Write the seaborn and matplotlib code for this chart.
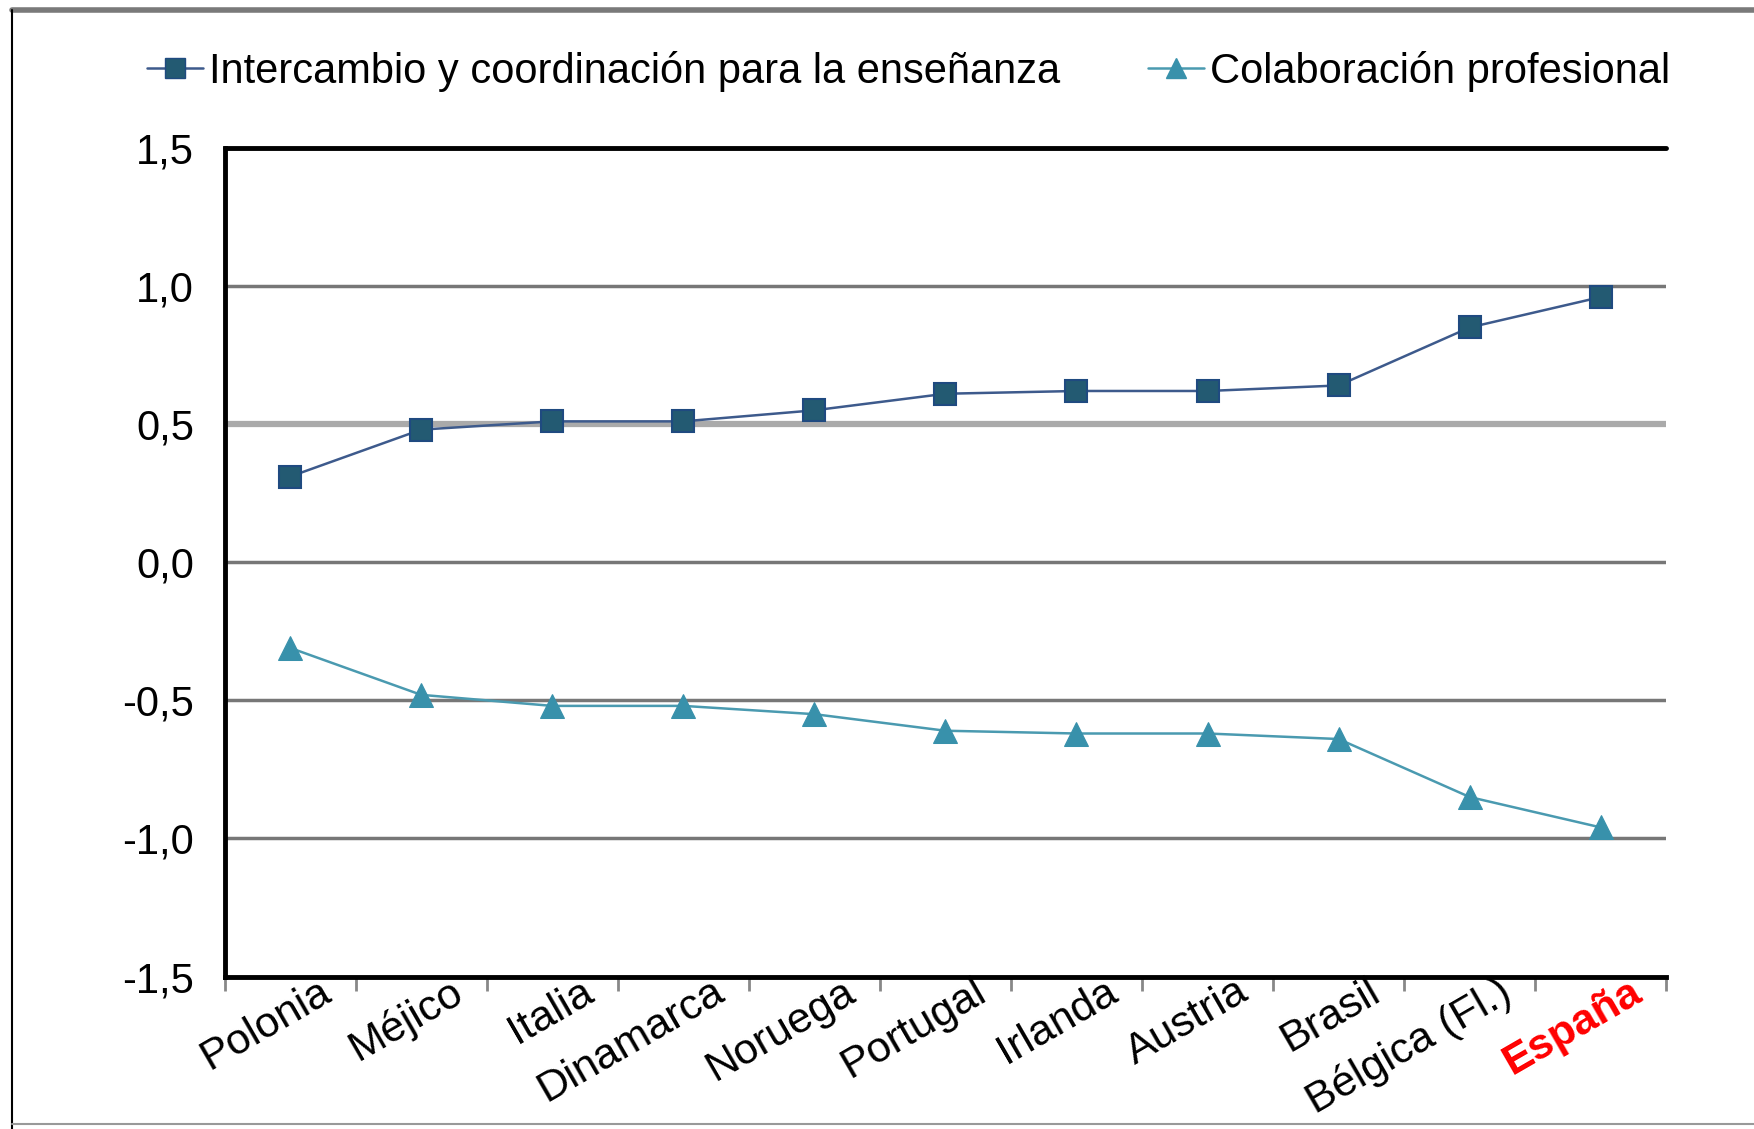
import numpy as np
import pandas as pd
import matplotlib
matplotlib.use("Agg")
import matplotlib.pyplot as plt
import matplotlib.transforms as mtransforms
from matplotlib.lines import Line2D
from matplotlib.ticker import FixedLocator, FuncFormatter
import seaborn as sns

# data
paises = ["Polonia", "Méjico", "Italia", "Dinamarca", "Noruega", "Portugal",
          "Irlanda", "Austria", "Brasil", "Bélgica (Fl.)", "España"]
intercambio = [0.31, 0.48, 0.51, 0.51, 0.55, 0.61, 0.62, 0.62, 0.64, 0.85, 0.96]
colaboracion = [-0.31, -0.48, -0.52, -0.52, -0.55, -0.61, -0.62, -0.62, -0.64, -0.85, -0.96]
serie1 = "Intercambio y coordinación para la enseñanza"
serie2 = "Colaboración profesional"
y_ticks = [-1.5, -1.0, -0.5, 0.0, 0.5, 1.0, 1.5]

df = pd.DataFrame({"pais": paises, "x": range(len(paises)),
                   serie1: intercambio, serie2: colaboracion})

sns.set_theme(style="white")
plt.rcParams["font.family"] = ["Liberation Sans", "DejaVu Sans"]
plt.rcParams["text.color"] = "black"
plt.rcParams["xtick.labelcolor"] = "black"
plt.rcParams["ytick.labelcolor"] = "black"

fig = plt.figure(figsize=(17.54, 11.29), dpi=100)
ax = fig.add_axes([0.128, 0.135, 0.822, 0.734])

# grid lines
for yv in [1.0, 0.0, -0.5, -1.0]:
    ax.axhline(yv, color="#777777", lw=2.5, zorder=1)
ax.axhline(0.5, color="#aaaaaa", lw=4.5, zorder=1)
ax.axhline(1.5, color="black", lw=3.5, zorder=3, clip_on=False)

sns.lineplot(data=df, x="x", y=serie1, ax=ax, color="#3d5a8c", lw=1.8,
             marker="s", markersize=16, markerfacecolor="#235a72",
             markeredgecolor="#1f4a80", markeredgewidth=1.5, zorder=4)
sns.lineplot(data=df, x="x", y=serie2, ax=ax, color="#4a9ab0", lw=1.8,
             marker="^", markersize=17, markerfacecolor="#3891ab",
             markeredgecolor="#3891ab", zorder=4)

ax.set_xlim(-0.5, len(paises) - 0.5)
ax.set_ylim(-1.5, 1.5)
ax.set_yticks(y_ticks)
ax.yaxis.set_major_formatter(FuncFormatter(lambda v, p: f"{v:.1f}".replace(".", ",")))
ax.tick_params(axis="y", labelsize=30, length=0, pad=22)

ax.set_xticks(range(len(paises)))
ax.set_xticklabels(paises, rotation=30, ha="right", rotation_mode="anchor",
                   fontsize=31)
ax.tick_params(axis="x", which="major", length=0, pad=0)
shift = mtransforms.ScaledTranslation(0.28, 0.05, fig.dpi_scale_trans)
for lab in ax.get_xticklabels():
    lab.set_transform(lab.get_transform() + shift)
ax.xaxis.set_minor_locator(FixedLocator(np.arange(-0.5, len(paises), 1.0)))
ax.tick_params(axis="x", which="minor", length=10, width=2, color="#888888",
               direction="out", bottom=True)
ax.get_xticklabels()[-1].set_color("red")
ax.get_xticklabels()[-1].set_fontweight("bold")

ax.set_xlabel("")
ax.set_ylabel("")
for s in ["top", "right"]:
    ax.spines[s].set_visible(False)
for s in ["left", "bottom"]:
    ax.spines[s].set_color("black")
    ax.spines[s].set_linewidth(3.5)

handles = [Line2D([], [], color="#3d5a8c", lw=1.8, marker="s", markersize=14,
                  markerfacecolor="#235a72", markeredgecolor="#1f4a80"),
           Line2D([], [], color="#4a9ab0", lw=1.8, marker="^", markersize=15,
                  markerfacecolor="#3891ab", markeredgecolor="#3891ab")]
fig.legend(handles, [serie1, serie2], loc="center", bbox_to_anchor=(0.518, 0.937),
           ncol=2, frameon=False, fontsize=30, handlelength=1.35,
           handletextpad=0.15, columnspacing=2.1)

# outer frame of the original figure
fig.add_artist(Line2D([0.007, 1.0], [0.991, 0.991], color="#7a7a7a", lw=4,
                      transform=fig.transFigure))
fig.add_artist(Line2D([0.007, 0.007], [0.0, 0.991], color="black", lw=1.5,
                      transform=fig.transFigure))
fig.add_artist(Line2D([0.007, 1.0], [0.004, 0.004], color="#999999", lw=1.5,
                      transform=fig.transFigure))

fig.savefig("out.png", dpi=100)
